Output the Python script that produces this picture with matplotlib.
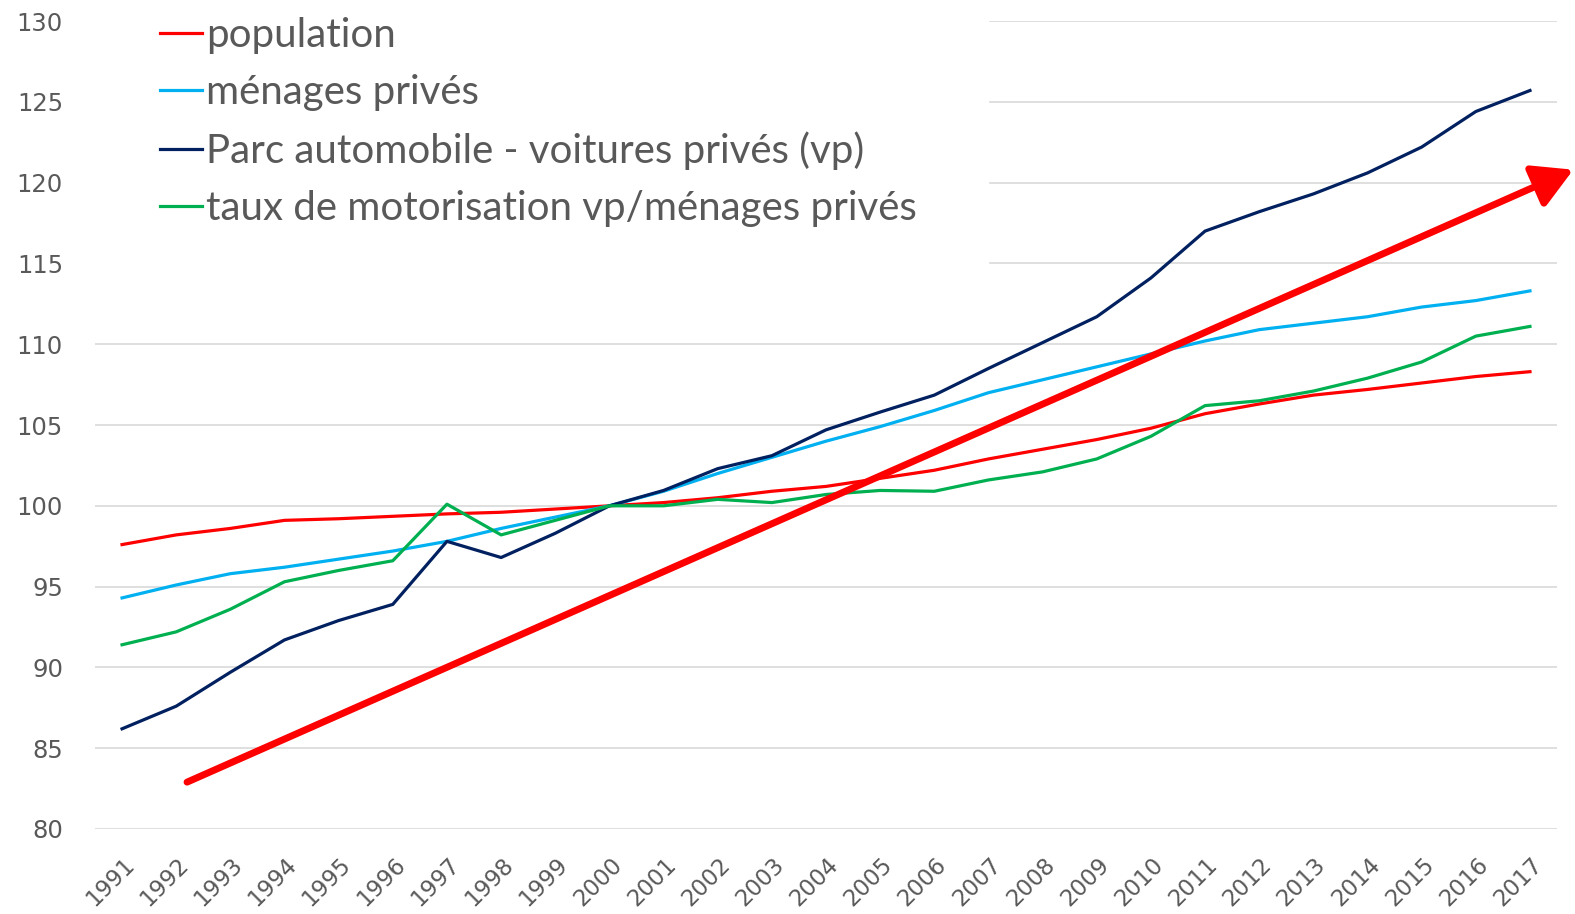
import matplotlib
matplotlib.use("Agg")
import matplotlib.pyplot as plt
from matplotlib.transforms import ScaledTranslation

# Indices (base 100 = 2000)
years = list(range(1991, 2018))
population = [97.6, 98.2, 98.6, 99.1, 99.2, 99.35, 99.5, 99.6, 99.8, 100.0,
              100.2, 100.5, 100.9, 101.2, 101.7, 102.2, 102.9, 103.5, 104.1, 104.8,
              105.7, 106.3, 106.85, 107.2, 107.6, 108.0, 108.3]
menages = [94.3, 95.1, 95.8, 96.2, 96.7, 97.2, 97.8, 98.6, 99.3, 100.0,
           100.9, 102.0, 103.0, 104.0, 104.9, 105.9, 107.0, 107.8, 108.6, 109.4,
           110.2, 110.9, 111.3, 111.7, 112.3, 112.7, 113.3]
parc_vp = [86.2, 87.6, 89.7, 91.7, 92.9, 93.9, 97.8, 96.8, 98.3, 100.0,
           100.95, 102.3, 103.1, 104.7, 105.8, 106.85, 108.5, 110.1, 111.7, 114.1,
           117.0, 118.2, 119.3, 120.6, 122.2, 124.4, 125.7]
taux_motor = [91.4, 92.2, 93.6, 95.3, 96.0, 96.6, 100.1, 98.2, 99.1, 100.0,
              100.0, 100.4, 100.2, 100.7, 100.95, 100.9, 101.6, 102.1, 102.9, 104.3,
              106.2, 106.5, 107.1, 107.9, 108.9, 110.5, 111.1]

labels = ['population', 'ménages privés', 'Parc automobile - voitures privés (vp)',
          'taux de motorisation vp/ménages privés']
colors = ['#FF0000', '#00B0F0', '#002060', '#00B050']

# trend arrow (year, index)
arrow_start = (1992.2, 82.9)
arrow_end = (2017.8, 120.8)

fig = plt.figure(figsize=(15.75, 9.14), dpi=100)
ax = fig.add_axes([0.0603, 0.093, 0.9283, 0.884])

for series, lab, col in zip([population, menages, parc_vp, taux_motor], labels, colors):
    ax.plot(years, series, color=col, lw=2.3, label=lab, zorder=3)

ax.annotate('', xy=arrow_end, xytext=arrow_start, annotation_clip=False,
            arrowprops=dict(arrowstyle='-|>,head_length=0.8,head_width=0.45',
                            color='#FF0000', lw=5, mutation_scale=30,
                            shrinkA=0, shrinkB=0), zorder=4)

ax.set_xlim(1990.5, 2017.5)
ax.set_ylim(80, 130)
ax.set_yticks(range(80, 131, 5))
ax.set_xticks(years)
ax.set_xticklabels([str(y) for y in years], rotation=45, ha='right', va='center',
                   rotation_mode='anchor')
ax.tick_params(axis='y', length=0, labelsize=17.5, labelcolor='#595959', pad=23)
ax.tick_params(axis='x', length=0, labelsize=16.5, labelcolor='#595959', pad=23)
for lbl in ax.get_xticklabels():
    lbl.set_transform(lbl.get_transform() + ScaledTranslation(0.09, 0, fig.dpi_scale_trans))
ax.grid(axis='y', color='#D9D9D9', lw=1.2)
ax.set_axisbelow(True)
for s in ax.spines.values():
    s.set_visible(False)

leg = ax.legend(loc='upper left', bbox_to_anchor=(0, 1.075, 0.611, 0.01),
                mode='expand', borderaxespad=0, borderpad=1.61,
                handlelength=1.04, handletextpad=0.1, labelspacing=0.5,
                prop={'family': 'Lato', 'size': 29},
                frameon=True, fancybox=False, framealpha=1,
                edgecolor='white', facecolor='white')
for t in leg.get_texts():
    t.set_color('#595959')
leg.set_zorder(5)

fig.savefig('out.png', dpi=100)
